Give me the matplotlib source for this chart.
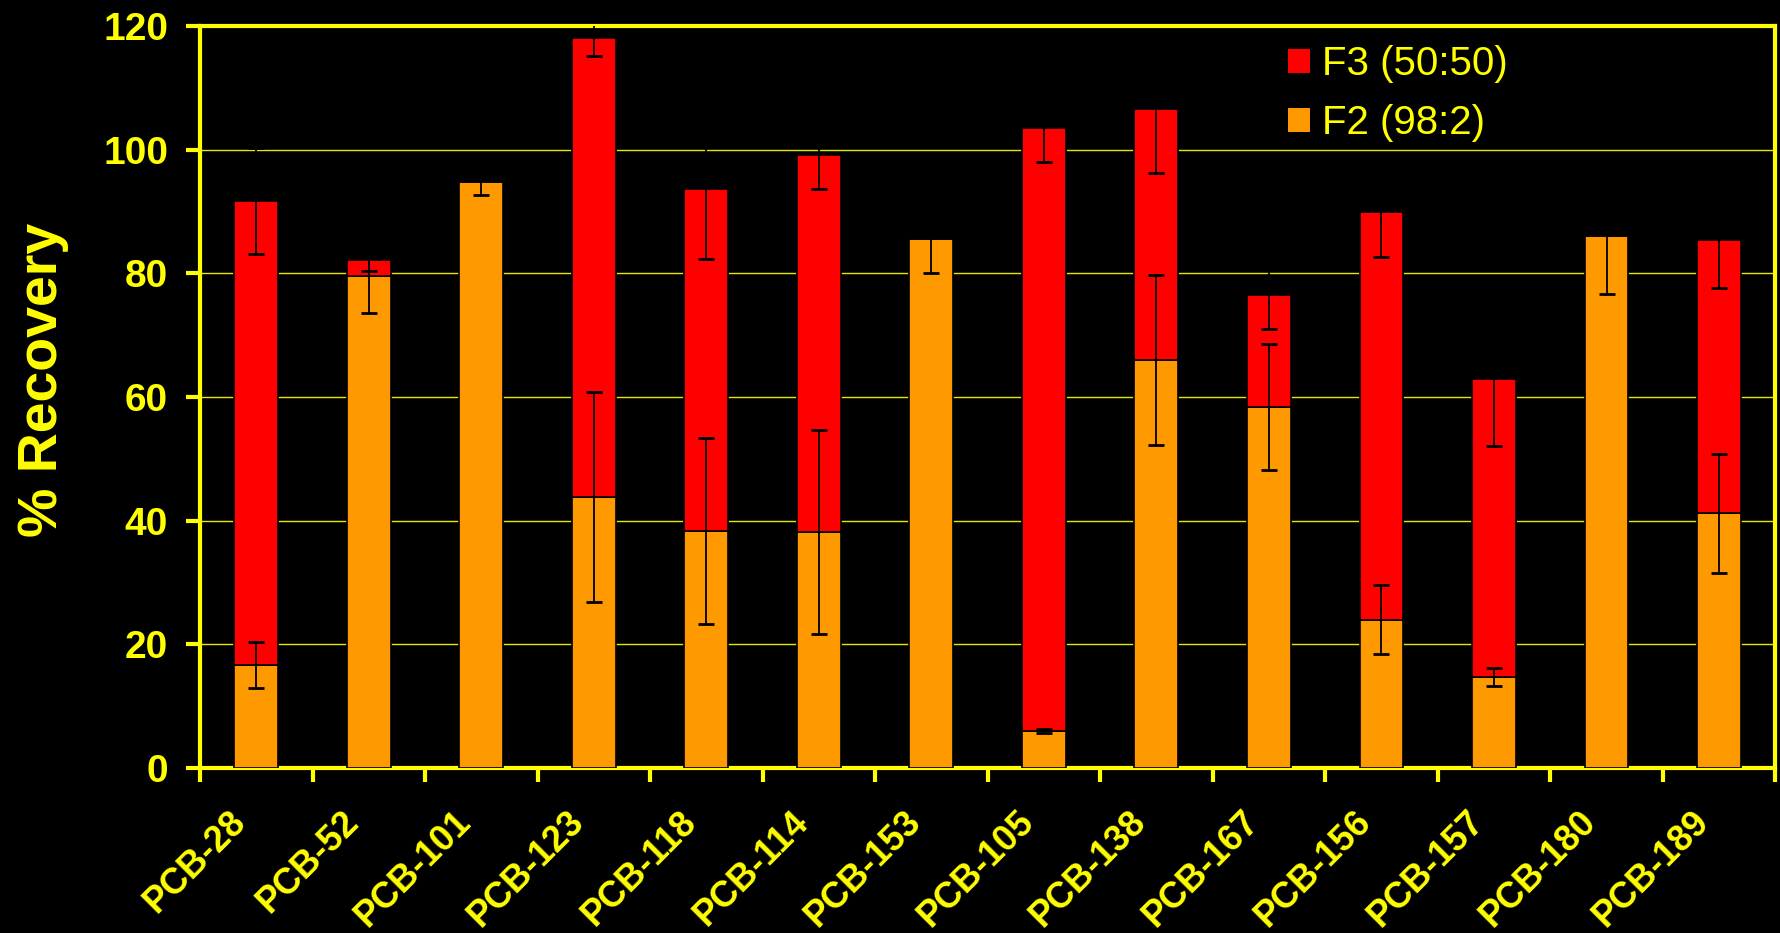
import numpy as np
import matplotlib
matplotlib.use("Agg")
import matplotlib.pyplot as plt
import matplotlib.transforms as mtransforms
from matplotlib.patches import Patch

categories = ['PCB-28', 'PCB-52', 'PCB-101', 'PCB-123', 'PCB-118', 'PCB-114', 'PCB-153',
              'PCB-105', 'PCB-138', 'PCB-167', 'PCB-156', 'PCB-157', 'PCB-180', 'PCB-189']
f2_values = [16.7, 79.5, 94.8, 43.8, 38.3, 38.2, 85.6, 6.0, 66.0, 58.4, 24.0, 14.7, 86.1, 41.2]
f2_errors = [3.7, 5.9, 2.1, 17.0, 15.0, 16.5, 5.5, 0.3, 13.7, 10.2, 5.6, 1.5, 9.4, 9.6]
f3_values = [75.0, 2.7, 0.0, 74.2, 55.4, 61.0, 0.0, 97.5, 40.6, 18.1, 66.0, 48.2, 0.0, 44.2]
f3_errors = [8.6, 1.8, 0.0, 2.9, 11.3, 5.5, 0.0, 5.5, 10.4, 5.5, 7.4, 10.8, 0.0, 7.8]
legend_labels = ['F3 (50:50)', 'F2 (98:2)']
y_ticks = [0, 20, 40, 60, 80, 100, 120]

YEL = '#FFFF00'
RED = '#FF0000'
ORA = '#FF9900'

plt.rcParams['font.family'] = ['Liberation Sans', 'DejaVu Sans']

fig = plt.figure(figsize=(17.81, 9.33), dpi=100, facecolor='black')
ax = fig.add_axes([0.1123, 0.1768, 0.8845, 0.7953])
ax.set_facecolor('black')

x = np.arange(len(categories))
f2 = np.array(f2_values)
f3 = np.array(f3_values)
w = 0.39

ax.bar(x, f2, width=w, color=ORA, edgecolor='black', linewidth=1.2, zorder=3)
ax.bar(x, f3, width=w, bottom=f2, color=RED, edgecolor='black', linewidth=1.2, zorder=3)

ax.errorbar(x, f2, yerr=f2_errors, fmt='none', ecolor='black', elinewidth=1.3,
            capsize=5.5, capthick=2.0, zorder=5)
mask = f3 > 0
ax.errorbar(x[mask], (f2 + f3)[mask], yerr=np.array(f3_errors)[mask], fmt='none',
            ecolor='black', elinewidth=1.3, capsize=5.5, capthick=2.0, zorder=5)

ax.set_xlim(-0.5, len(categories) - 0.5)
ax.set_ylim(0, 120)
ax.set_yticks(y_ticks)
ax.yaxis.grid(True, color='#E6E600', linewidth=1.0, zorder=0)
ax.set_axisbelow(True)

for s in ax.spines.values():
    s.set_color(YEL)
    s.set_linewidth(3.0)

ax.tick_params(axis='y', colors=YEL, length=10, width=3, direction='out', pad=13,
               labelsize=28)
for lab in ax.get_yticklabels():
    lab.set_fontweight('bold')

ax.set_xticks(x)
ax.set_xticklabels(categories, rotation=45, ha='right', va='top', fontsize=26,
                   fontweight='bold', color=YEL)
ax.tick_params(axis='x', which='major', length=0, pad=26)
ax.set_xticks(np.arange(len(categories) + 1) - 0.5, minor=True)
ax.tick_params(axis='x', which='minor', length=10, width=3, color=YEL, direction='out')
offset = mtransforms.ScaledTranslation(-3 / 100, 0, fig.dpi_scale_trans)
for lab in ax.get_xticklabels():
    lab.set_transform(lab.get_transform() + offset)

fig.text(0.024, 0.593, '% Recovery', rotation=90, ha='center', va='center',
         fontsize=40, fontweight='bold', color=YEL)

handles = [Patch(facecolor=RED, edgecolor='none'), Patch(facecolor=ORA, edgecolor='none')]
leg = ax.legend(handles, legend_labels, loc='upper left', bbox_to_anchor=(0.6906, 0.974),
                frameon=False, fontsize=29, handlelength=0.55, handleheight=0.55,
                handletextpad=0.3, labelspacing=0.52, borderpad=0, borderaxespad=0)
for t in leg.get_texts():
    t.set_color(YEL)

fig.savefig('out.png', dpi=100, facecolor='black')
